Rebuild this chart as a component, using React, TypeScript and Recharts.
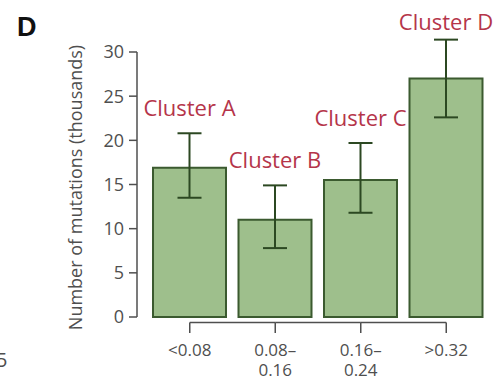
import { BarChart, Bar, XAxis, YAxis, ErrorBar, LabelList } from 'recharts';

const CATEGORIES = ['<0.08', '0.08–0.16', '0.16–0.24', '>0.32'];
const TICK_LINES = [['<0.08'], ['0.08–', '0.16'], ['0.16–', '0.24'], ['>0.32']];
const CLUSTERS = ['Cluster A', 'Cluster B', 'Cluster C', 'Cluster D'];
const MUTATIONS = [16.9, 11.0, 15.5, 27.0];
const ERR_LOW = [3.4, 3.2, 3.7, 4.4];
const ERR_HIGH = [3.9, 3.9, 4.2, 4.4];
const Y_TICKS = [0, 5, 10, 15, 20, 25, 30];
const Y_MAX = 31.5;

const W = 501;
const H = 381;
const Y_AXIS_W = 137;
const X_AXIS_H = 64;
const PAD_LEFT = 10;
const PLOT_BOTTOM = H - X_AXIS_H;
const PX = (PLOT_BOTTOM - 52) / 30;
const MARGIN = { top: PLOT_BOTTOM - Y_MAX * PX, right: 12, bottom: 0, left: 0 };
const STEP = (W - MARGIN.right - MARGIN.left - Y_AXIS_W - PAD_LEFT) / CATEGORIES.length;

const AXIS = '#4f4f4f';
const RED = '#b5354a';
const FILL = '#9ebf8c';
const EDGE = '#3b5a2f';
const FONT = '"Open Sans", "Noto Sans", sans-serif';

const data = CATEGORIES.map((c, i) => ({
  range: c,
  cluster: CLUSTERS[i],
  value: MUTATIONS[i],
  err: [ERR_LOW[i], ERR_HIGH[i]],
}));

function XTick(props: any) {
  const { x, y, index } = props;
  const lines = TICK_LINES[index] || [];
  return (
    <g>
      {index < CATEGORIES.length - 1 && (
        <line x1={x} y1={y + 5.5} x2={x + STEP} y2={y + 5.5} stroke={AXIS} strokeWidth={1.5} />
      )}
      <line x1={x} y1={y + 5.5} x2={x} y2={y + 16} stroke={AXIS} strokeWidth={1.5} />
      {lines.map((l, i) => (
        <text key={i} x={x} y={y + 39 + i * 20} textAnchor="middle" fill={AXIS} fontSize={17} fontFamily={FONT}>
          {l}
        </text>
      ))}
    </g>
  );
}

function YTick(props: any) {
  const { x, y, payload } = props;
  const top = payload.value === Y_TICKS[Y_TICKS.length - 1];
  return (
    <g>
      {top && <line x1={x} y1={y} x2={x} y2={PLOT_BOTTOM} stroke={AXIS} strokeWidth={1.5} />}
      <line x1={x - 8} y1={y} x2={x} y2={y} stroke={AXIS} strokeWidth={1.5} />
      <text x={x - 13} y={y} dy="0.36em" textAnchor="end" fill={AXIS} fontSize={18} fontFamily={FONT}>
        {payload.value}
      </text>
    </g>
  );
}

function YLabel(props: any) {
  const vb = props.viewBox || { x: 0, y: 0, width: 0, height: 0 };
  const cx = vb.x + 75;
  const cy = 52 + (PLOT_BOTTOM - 52) / 2 + 3;
  return (
    <text
      x={cx}
      y={cy}
      transform={`rotate(-90, ${cx}, ${cy})`}
      textAnchor="middle"
      dominantBaseline="central"
      fill={AXIS}
      fontSize={18}
      fontFamily={FONT}
    >
      Number of mutations (thousands)
    </text>
  );
}

function ClusterLabel(props: any) {
  const vb = props.viewBox || props;
  const i = CLUSTERS.indexOf(props.value);
  const cx = vb.x + vb.width / 2;
  const errTop = vb.y - ERR_HIGH[i] * PX;
  const cy = Math.max(errTop - 25, 22);
  return (
    <text x={cx} y={cy + 8} textAnchor="middle" fill={RED} fontSize={22} fontFamily={FONT}>
      {props.value}
    </text>
  );
}

export default function App() {
  return (
    <div style={{ position: 'absolute', left: 0, top: 0, width: W, height: H, background: '#fff' }}>
      <span
        style={{
          position: 'absolute', left: 17, top: 12, fontFamily: '"Liberation Sans", Arial, sans-serif',
          fontWeight: 'bold', fontSize: 27, color: '#111', lineHeight: '30px',
        }}
      >
        D
      </span>
      <span
        style={{
          position: 'absolute', left: -4, top: 348, fontFamily: FONT, fontSize: 20, color: AXIS, lineHeight: '24px',
        }}
      >
        5
      </span>
      <BarChart width={W} height={H} data={data} margin={MARGIN}>
        <XAxis
          dataKey="range"
          padding={{ left: PAD_LEFT, right: 0 }}
          axisLine={false}
          tickLine={false}
          tickSize={0}
          tickMargin={0}
          height={X_AXIS_H}
          interval={0}
          tick={<XTick />}
        />
        <YAxis
          domain={[0, Y_MAX]}
          ticks={Y_TICKS}
          width={Y_AXIS_W}
          axisLine={false}
          tickLine={false}
          tickSize={0}
          tickMargin={0}
          tick={<YTick />}
          label={<YLabel />}
        />
        <Bar dataKey="value" barSize={73} fill={FILL} stroke={EDGE} strokeWidth={2} isAnimationActive={false}>
          <ErrorBar dataKey="err" direction="y" width={12} stroke="#2c4822" strokeWidth={2} />
          <LabelList dataKey="cluster" content={<ClusterLabel />} />
        </Bar>
      </BarChart>
    </div>
  );
}
